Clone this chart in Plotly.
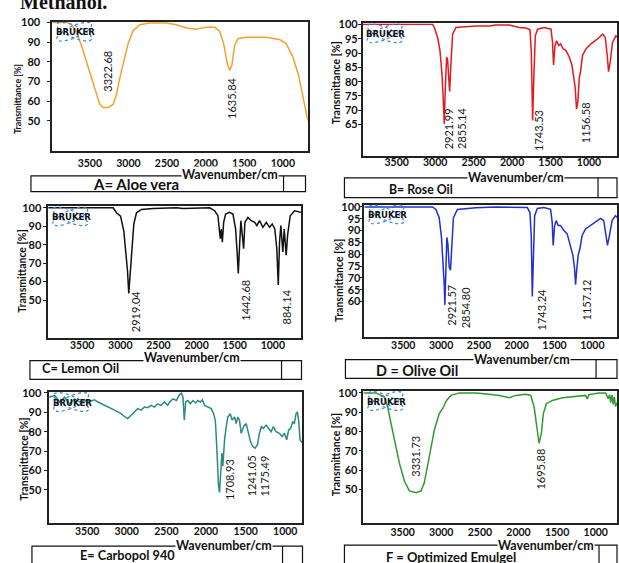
import math
import plotly.graph_objects as go

W, H = 619, 563

# ---------------- data ----------------
A_wn = [3987,3802,3737,3672,3608,3543,3478,3414,3371,3328,3263,3198,3155,3112,3060,3004,2940,2853,2724,2509,
        2379,2250,2121,1992,1884,1819,1767,1720,1690,1660,1625,1582,1474,1216,1043,957,871,793,733,677]
A_T = [100,100,99,95,88.3,80,70.8,62.8,58.3,56.7,56.7,58.3,63.3,71.7,80.8,89.2,95.8,98.8,99.7,99.7,
       98.8,97.2,96.5,97.5,97.5,95.5,89.2,79.2,75.5,78.3,88.3,91.7,92.5,92.5,91.3,89.2,82.5,72.5,60.8,50]

B_wn = [3942,3033,3011,2968,2938,2912,2895,2882,2869,2851,2838,2825,2812,2795,2773,2730,2471,2298,2211,2038,
        1906,1819,1767,1750,1733,1715,1698,1668,1581,1494,1474,1461,1442,1421,1395,1369,1335,1300,1257,1222,
        1201,1179,1162,1144,1127,1110,1084,1040,975,889,824,789,763,746,724,694,650,632]
B_T = [100,100,98.9,95.4,90.9,82.9,73.8,65.2,77.2,88.6,87.5,79.5,76.6,86.3,96.6,98.9,99.4,99.4,99.8,99.8,
       98.9,98.7,98.1,90.3,66.4,83.5,96,98.3,98.9,98.3,93.7,85.8,92.6,94.3,92.6,93.2,91.4,90.9,88.6,85.8,
       82.3,77.8,70.4,73.2,81.2,83.5,89.2,91.4,93.2,94.9,96.6,95.5,89.2,83.5,86.9,93.7,96,95.5]

C_wn = [3945,3094,3050,2997,2954,2928,2906,2889,2872,2849,2823,2788,2722,2571,2264,2178,1959,1828,1763,1720,
        1689,1676,1662,1645,1619,1567,1523,1488,1466,1453,1436,1419,1400,1383,1366,1327,1283,1239,1209,1174,
        1130,1086,1043,1008,974,948,929,912,895,869,851,825,807,772,716,650,628]
C_T = [100,100,97.3,95.5,87.5,76.8,66,53.6,63,76.8,91.1,97.3,99.1,99.6,100,99.6,100,100,98.4,95.7,
       83.2,88.5,81.4,92.1,96.6,97.5,96.6,88.5,74.3,64.4,79.6,93,85,77.8,92.1,94.8,93,92.1,90.4,93,
       89.4,92.1,89.4,91.2,88.5,77.8,58.2,81.4,90.4,76.1,88.5,74.3,85,95.7,98.4,97.5,97.5]

D_wn = [4014,3113,3069,3025,2995,2972,2959,2950,2937,2924,2910,2893,2876,2858,2837,2784,2541,2277,2013,1970,
        1860,1825,1808,1794,1781,1763,1728,1640,1552,1531,1518,1499,1478,1452,1420,1376,1333,1288,1258,1235,
        1222,1205,1187,1165,1135,1090,1024,950,892,849,818,800,774,739,694,670]
D_T = [100,100,98.9,95.4,87.1,77.3,67.6,58.6,73.2,87.1,84.3,74.6,73.2,84.3,95.4,98.9,99.6,100,99.9,100,
       99.7,97.6,87.9,62.2,79.6,96.3,99.3,99.7,99,93.5,83.7,92.1,94.2,92.1,92.1,90,88.6,83.7,79.6,74,
       67.1,74,79.6,82.3,87.9,90.7,92.1,93.5,95.1,94.2,87.9,83.7,87.9,94.2,96.3,95.5]

E_wn = [3979,3910,3847,3785,3722,3659,3596,3533,3450,3407,3365,3324,3281,3239,3198,3155,3113,3072,3022,2988,
        2946,2903,2862,2820,2777,2736,2694,2651,2610,2568,2526,2484,2459,2417,2374,2342,2312,2291,2274,2257,
        2228,2198,2165,2131,2103,2072,2047,2018,1977,1934,1905,1883,1871,1858,1842,1829,1817,1800,1788,1766,
        1745,1725,1695,1670,1640,1619,1599,1578,1556,1527,1493,1464,1439,1410,1380,1351,1326,1301,1275,1242,
        1209,1179,1150,1116,1074,1040,1011,982,957,932,906,885,864,848,831,813,797,786]
E_T = [97.8,98.7,95.3,97.8,94.4,96.9,95.3,96.1,95.8,96.4,95.3,94.4,93.6,92.7,91.9,91.1,90.2,89.3,87.6,86.8,
       88.5,90.2,91.9,91.1,92.7,92.4,93.6,92.7,94.4,93.6,95.3,93.6,95.3,96.9,96.1,98.7,100,97.8,86,95.3,
       96.1,94.4,96.1,94.8,96.1,95.3,96.4,93.6,92.7,91.9,89.3,86,77.5,65.6,52.1,48.7,58.8,69,62.2,75.8,
       82.6,87.6,89.3,86,87.6,84.2,87.6,86,79.2,82.6,84.2,79.2,74.9,72.4,71.5,73.3,79.2,82.6,81.7,83.4,
       81.7,80,82.6,80,79.2,77.5,79.2,75.8,80.9,81.7,85.1,84.2,89.3,90.2,86,75.8,74.9,74.5]

F_wn = [4008,3844,3736,3694,3650,3594,3543,3478,3413,3327,3262,3220,3177,3133,3090,3026,2983,2932,2875,2767,
        2552,2380,2251,2121,2035,1906,1841,1798,1764,1734,1704,1678,1640,1562,1433,1260,1131,1110,1088,959,
        872,840,820,807,790,775,760,745,721]
F_T = [100,100,97.8,92.7,84.1,73.9,63.7,54.3,49.2,48.3,49.2,53.4,62,72.2,80.7,89.3,91.8,96.1,98.7,100,
       100,99.3,98.7,97.5,98.7,99.3,98.7,92.7,82.4,73.9,79,89.3,94.4,96.1,97.5,98.3,98.7,96.9,99.1,100,
       100,97,99,95,99,94,98,93,95]

X_TICKS = [3500, 3000, 2500, 2000, 1500, 1000]

A_yticks = [50, 60, 70, 80, 90, 100]
B_yticks = [65, 70, 75, 80, 85, 90, 95, 100]
C_yticks = [50, 60, 70, 80, 90, 100]
D_yticks = [60, 65, 70, 75, 80, 85, 90, 95, 100]
E_yticks = [50, 60, 70, 80, 90, 100]
F_yticks = [50, 60, 70, 80, 90, 100]

A_peaks = ["3322.68", "1635.84"]
B_peaks = ["2921.99", "2855.14", "1743.53", "1156.58"]
C_peaks = ["2919.04", "1442.68", "884.14"]
D_peaks = ["2921.57", "2854.80", "1743.24", "1157.12"]
E_peaks = ["1708.93", "1241.05", "1175.49"]
F_peaks = ["3331.73", "1695.88"]

names = ["A= Aloe vera", "B= Rose Oil", "C= Lemon Oil", "D = Olive Oil", "E= Carbopol 940", "F = Optimized Emulgel"]

# ---------------- layout helpers ----------------
def px(x):
    return x / W

def py(y):
    return 1 - y / H

FONT = "Lato"

panels = [
    dict(wn=A_wn, T=A_T, yt=A_yticks, peaks=A_peaks, color="#F2A22C",
         box=(52.3, 15, 308.3, 146), xr=[3987, 677], yr=[34.5, 100.3], xso=1, yso=5,
         peakpos=[(3276, 75), (1668, 61.2)],
         ytitle=(18, 93, 8.8), lab=(136, 179, 15), labbox=(31, 171, 306, 187, 284), wav=(230, 170)),
    dict(wn=B_wn, T=B_T, yt=B_yticks, peaks=B_peaks, color="#E3191F",
         box=(363.3, 16.7, 618.3, 151), xr=[3942, 632], yr=[54, 100.3], xso=-4, yso=-2,
         peakpos=[(2815, 63.5), (2650, 63.5), (1655, 63), (1053, 65.8)],
         ytitle=(337, 77, 10.5), lab=(422, 185, 12.3), labbox=(345, 173, 618, 193, 599), wav=(517, 172.5)),
    dict(wn=C_wn, T=C_T, yt=C_yticks, peaks=C_peaks, color="#111111",
         box=(48.3, 202, 301.7, 335), xr=[3945, 628], yr=[29.5, 100.7], xso=-3, yso=0,
         peakpos=[(2797, 43.8), (1370, 50), (817, 46.4)],
         ytitle=(22, 267, 10.5), lab=(81, 366, 12.8), labbox=(30, 358, 302, 377, 282), wav=(192, 354.5)),
    dict(wn=D_wn, T=D_T, yt=D_yticks, peaks=D_peaks, color="#2130CF",
         box=(365, 200, 618.3, 334), xr=[4014, 670], yr=[45.1, 101], xso=-2, yso=-3,
         peakpos=[(2858, 58.6), (2682, 57.2), (1671, 56.5), (1077, 60.7)],
         ytitle=(339, 277, 10.5), lab=(418, 368, 14.4), labbox=(346, 357, 618, 376, 597), wav=(523, 357)),
    dict(wn=E_wn, T=E_T, yt=E_yticks, peaks=E_peaks, color="#2B8C84",
         box=(49.3, 390, 302.7, 522), xr=[3979, 786], yr=[33.2, 100.4], xso=-2, yso=1,
         peakpos=[(1712, 55.5), (1430, 57.1), (1263, 57.1)],
         ytitle=(24.5, 458, 10.5), lab=(128, 555, 12.7), labbox=(32, 546, 303, 570, 283), wav=(224, 545.5)),
    dict(wn=F_wn, T=F_T, yt=F_yticks, peaks=F_peaks, color="#2F9A2F",
         box=(364, 389, 618.3, 523), xr=[4008, 721], yr=[32.3, 100.9], xso=-2, yso=-1,
         peakpos=[(3336, 67.1), (1721, 60.3)],
         ytitle=(336.5, 453, 10.5), lab=(452, 557, 13), labbox=(345, 545, 618, 570, 600), wav=(547, 545)),
]

fig = go.Figure()
layout = dict(width=W, height=H, margin=dict(l=0, r=0, t=0, b=0),
              paper_bgcolor="white", plot_bgcolor="white", showlegend=False)
annotations = []
shapes = []


def ellipse_path(cx, cy, a, b, ang):
    k = 0.5523
    ca, sa = math.cos(ang), math.sin(ang)

    def P(u, v):
        X = cx + u * ca - v * sa
        Y = cy + u * sa + v * ca
        return f"{px(X):.5f},{py(Y):.5f}"
    d = "M " + P(a, 0)
    d += " C " + P(a, k * b) + " " + P(k * a, b) + " " + P(0, b)
    d += " C " + P(-k * a, b) + " " + P(-a, k * b) + " " + P(-a, 0)
    d += " C " + P(-a, -k * b) + " " + P(-k * a, -b) + " " + P(0, -b)
    d += " C " + P(k * a, -b) + " " + P(a, -k * b) + " " + P(a, 0) + " Z"
    return d


def paper_note(text, x, y, **kw):
    d = dict(text=text, x=px(x), y=py(y), xref="paper", yref="paper", showarrow=False,
             xanchor="center", yanchor="middle")
    d.update(kw)
    return d


for i, p in enumerate(panels, start=1):
    L, T, R, B = p["box"]
    xa = "x" if i == 1 else f"x{i}"
    ya = "y" if i == 1 else f"y{i}"
    fig.add_trace(go.Scatter(x=p["wn"], y=p["T"], mode="lines", xaxis=xa, yaxis=ya,
                             line=dict(color=p["color"], width=1.5), hoverinfo="skip"))
    layout[f"xaxis{'' if i == 1 else i}"] = dict(
        domain=[px(L), px(R)], range=p["xr"], anchor=ya, tickvals=X_TICKS,
        showgrid=False, zeroline=False, showline=True, mirror=True, linecolor="#222", linewidth=1.5,
        ticks="", tickfont=dict(family=FONT, size=10.5, color="#111", weight="bold"),
        ticklabelstandoff=p["xso"])
    layout[f"yaxis{'' if i == 1 else i}"] = dict(
        domain=[py(B), py(T)], range=p["yr"], anchor=xa, tickvals=p["yt"],
        showgrid=False, zeroline=False, showline=True, mirror=True, linecolor="#222", linewidth=1.5,
        ticks="outside", ticklen=3, tickcolor="#222",
        tickfont=dict(family=FONT, size=11, color="#111", weight="bold"), ticklabelstandoff=p["yso"])
    # peak labels
    for txt, (xv, yv) in zip(p["peaks"], p["peakpos"]):
        annotations.append(dict(text=txt, x=xv, y=yv, xref=xa, yref=ya, showarrow=False, textangle=-90,
                                xanchor="center", yanchor="middle",
                                font=dict(family=FONT, size=11, color="#1a1a1a")))
    # y title
    tx, ty, ts = p["ytitle"]
    annotations.append(paper_note("Transmittance [%]", tx, ty, textangle=-90,
                                  font=dict(family=FONT, size=ts, color="#111", weight="bold")))
    # label box
    bx0, by0, bx1, by1, dv = p["labbox"]
    shapes.append(dict(type="rect", xref="paper", yref="paper", x0=px(bx0), x1=px(bx1), y0=py(by1), y1=py(by0),
                       line=dict(color="#111", width=1.2), fillcolor="rgba(0,0,0,0)"))
    shapes.append(dict(type="line", xref="paper", yref="paper", x0=px(dv), x1=px(dv), y0=py(by1), y1=py(by0),
                       line=dict(color="#111", width=1.2)))
    wx, wy = p["wav"]
    annotations.append(paper_note("Wavenumber/cm", wx, wy, bgcolor="white", borderpad=0,
                                  font=dict(family=FONT, size=12.5, color="#111", weight="bold")))
    lx, ly, ls = p["lab"]
    annotations.append(paper_note(names[i - 1], lx, ly,
                                  font=dict(family=FONT, size=ls, color="#111", weight="bold")))
    # Bruker logo
    cx, cy = L + 22, T + 10
    for ang in (0.42, -0.42):
        shapes.append(dict(type="path", xref="paper", yref="paper", path=ellipse_path(cx, cy, 19, 6, ang),
                           line=dict(color="#3B82E0", width=1.2, dash="dot")))
    annotations.append(paper_note("BRUKER", L + 23, T + 10.5,
                                  font=dict(family="DejaVu Sans", size=8.5, color="#111", weight="bold")))

# cut-off caption at the very top
annotations.append(dict(text="Methanol.", x=px(18), y=py(8.5), xref="paper", yref="paper", xanchor="left",
                        yanchor="bottom", showarrow=False,
                        font=dict(family="Liberation Serif", size=20, color="#111", weight="bold")))

layout["annotations"] = annotations
layout["shapes"] = shapes
fig.update_layout(**layout)
fig.write_html("out.html")
